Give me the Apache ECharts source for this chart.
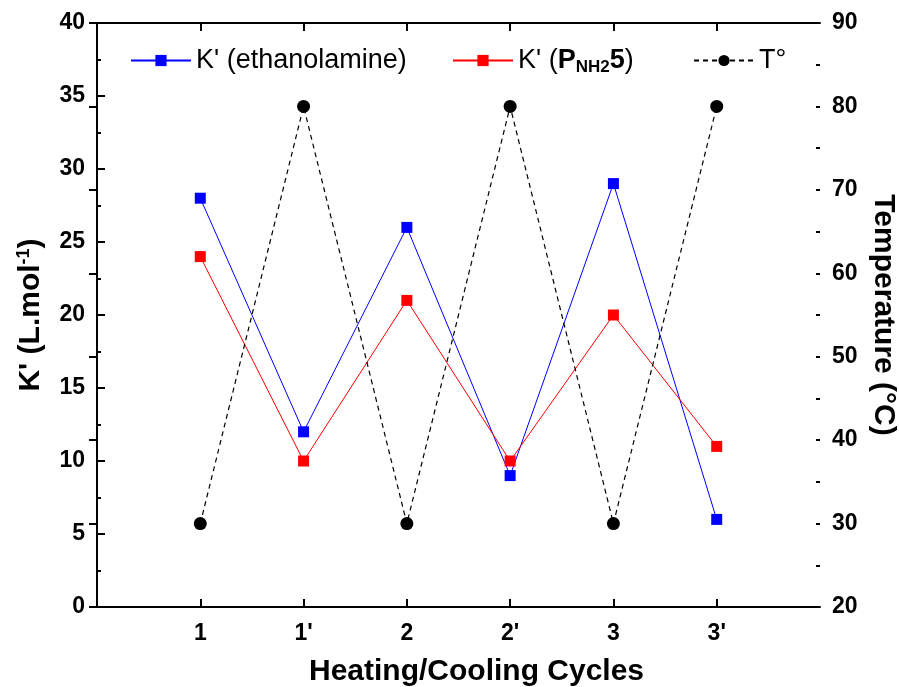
<!DOCTYPE html>
<html>
<head>
<meta charset="utf-8">
<script src="https://cdn.jsdelivr.net/npm/echarts@6/dist/echarts.min.js"></script>
<style>
  html, body { margin: 0; padding: 0; background: #fff; }
  #chart { width: 899px; height: 687px; }
</style>
</head>
<body>
<div id="chart"></div>
<script>
// cycles on the x axis
var categories = ["1", "1'", "2", "2'", "3", "3'"];
var kEthanolamine = [28, 12, 26, 9, 29, 6];
var kPNH2 = [24, 10, 21, 10, 20, 11];
var temperature = [30, 80, 30, 80, 30, 80];

var FONT = "Liberation Sans, Arial, sans-serif";

function toPoints(vals) {
  return vals.map(function (v, i) { return [i + 1, v]; });
}

var catLabel = function (v) { return categories[v - 1] || ""; };

var black2 = { color: "#000", width: 2 };

var baseX = {
  type: "value",
  min: 0,
  max: categories.length + 1,
  interval: 1,
  splitLine: { show: false },
  axisLine: { onZero: false, lineStyle: black2 },
  axisTick: {
    inside: true, length: 8,
    lineStyle: black2,
    customValues: [1, 2, 3, 4, 5, 6]
  }
};

// tick marks only, used to draw the short minor ticks on the y axes
function minorY(pos, min, max, step) {
  return {
    type: "value", min: min, max: max, interval: step, position: pos,
    axisLine: { show: false },
    axisLabel: { show: false },
    splitLine: { show: false },
    axisTick: { inside: true, length: 4, lineStyle: black2 }
  };
}

var myChart = echarts.init(document.getElementById("chart"), null, { renderer: "canvas" });

var legendBase = {
  top: 42,
  itemWidth: 60,
  itemHeight: 14,
  textStyle: {
    fontFamily: FONT, fontSize: 27, color: "#000",
    rich: {
      b: { fontFamily: FONT, fontSize: 27, fontWeight: "bold", color: "#000" },
      sub: { fontFamily: FONT, fontSize: 17, fontWeight: "bold", color: "#000", padding: [14, 0, 0, 0] }
    }
  }
};

var options = {
  backgroundColor: "#fff",
  animation: false,
  grid: { left: 97, right: 79, top: 23, bottom: 80, outerBoundsMode: "none", containLabel: false },
  legend: [
    Object.assign({}, legendBase, { left: 125, data: ["K' (ethanolamine)"] }),
    Object.assign({}, legendBase, {
      left: 447, data: ["K' (PNH25)"],
      formatter: function () { return "K' ({b|P}{sub|NH2}{b|5})"; }
    }),
    Object.assign({}, legendBase, { left: 688, data: ["T°"] })
  ],
  xAxis: [
    Object.assign({}, baseX, {
      position: "bottom",
      name: "Heating/Cooling Cycles",
      nameLocation: "middle",
      nameGap: 50,
      nameTextStyle: {
        fontFamily: FONT, fontSize: 30, fontWeight: "bold", color: "#000",
        padding: [0, 0, 0, 36]
      },
      axisLabel: {
        formatter: catLabel, margin: 15,
        fontFamily: FONT, fontSize: 23, fontWeight: "bold", color: "#000"
      }
    }),
    Object.assign({}, baseX, {
      position: "top",
      axisLabel: { show: false }
    })
  ],
  yAxis: [
    {
      type: "value",
      min: 0, max: 40, interval: 5,
      position: "left",
      name: "{t|K' (L.mol}{sup|-1}{t|)}",
      nameLocation: "middle",
      nameRotate: 90,
      nameGap: 50,
      nameTextStyle: {
        rich: {
          t: { fontFamily: FONT, fontSize: 30, fontWeight: "bold", color: "#000" },
          sup: { fontFamily: FONT, fontSize: 18, fontWeight: "bold", color: "#000", padding: [0, 0, 14, 0] }
        }
      },
      splitLine: { show: false },
      axisLine: { lineStyle: black2 },
      axisTick: { inside: true, length: 8, lineStyle: black2 },
      axisLabel: { margin: 12, fontFamily: FONT, fontSize: 23, fontWeight: "bold", color: "#000" }
    },
    {
      type: "value",
      min: 20, max: 90, interval: 10,
      position: "right",
      name: "Temperature (°C)",
      nameLocation: "middle",
      nameRotate: -90,
      nameGap: 45,
      nameTextStyle: { fontFamily: FONT, fontSize: 30, fontWeight: "bold", color: "#000" },
      splitLine: { show: false },
      axisLine: { lineStyle: black2 },
      axisTick: { inside: true, length: 8, lineStyle: black2 },
      axisLabel: { margin: 12, fontFamily: FONT, fontSize: 23, fontWeight: "bold", color: "#000" }
    },
    minorY("left", 0, 40, 2.5),
    minorY("right", 20, 90, 5)
  ],
  series: [
    {
      name: "K' (ethanolamine)",
      type: "line",
      data: toPoints(kEthanolamine),
      symbol: "rect", symbolSize: 11,
      itemStyle: { color: "#0000ff" },
      lineStyle: { color: "#0000ff", width: 1 }
    },
    {
      name: "K' (PNH25)",
      type: "line",
      data: toPoints(kPNH2),
      symbol: "rect", symbolSize: 11,
      itemStyle: { color: "#ff0000" },
      lineStyle: { color: "#ff0000", width: 1 }
    },
    {
      name: "T°",
      type: "line",
      yAxisIndex: 1,
      data: toPoints(temperature),
      symbol: "circle", symbolSize: 13,
      itemStyle: { color: "#000" },
      lineStyle: { color: "#000", width: 1.2, type: [5, 4] }
    }
  ]
};

myChart.setOption(options, true);
</script>
</body>
</html>
